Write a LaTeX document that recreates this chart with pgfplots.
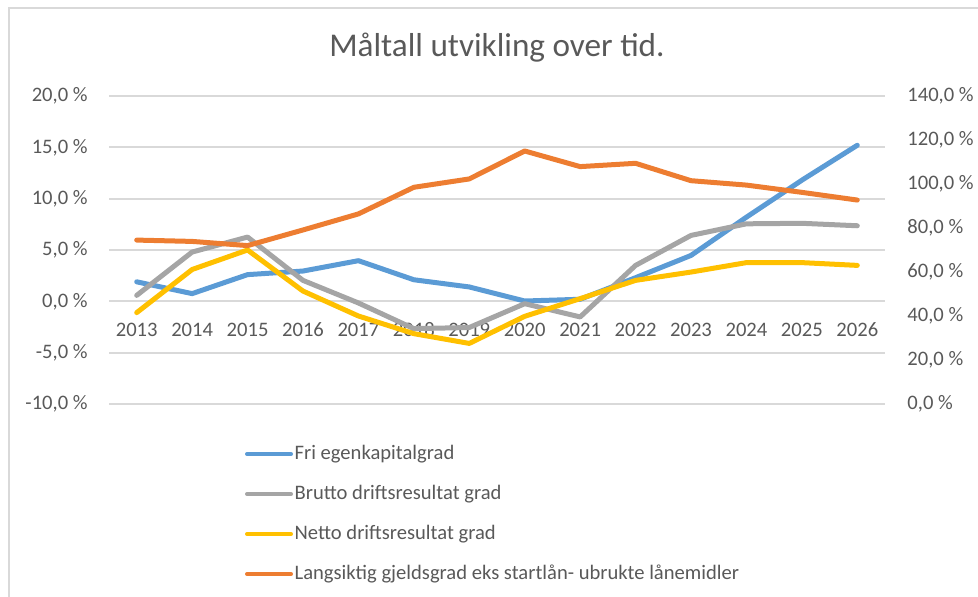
\documentclass[border=0pt]{standalone}
\usepackage{pgfplots}
\pgfplotsset{compat=1.18}
\usepackage{fontspec}
\setmainfont{Carlito}
\definecolor{cblue}{HTML}{5B9BD5}
\definecolor{corange}{HTML}{ED7D31}
\definecolor{cgray}{HTML}{A5A5A5}
\definecolor{cyellow}{HTML}{FFC000}
\definecolor{cgrid}{HTML}{D9D9D9}
\definecolor{ctext}{HTML}{595959}
\begin{document}
\begin{tikzpicture}
\path[use as bounding box] (0,0) rectangle (489pt,298.5pt);
\draw[cgrid, line width=1pt] (4.5pt,0pt) -- (4.5pt,294.5pt) -- (489pt,294.5pt);
\pgfplotsset{
  common/.style={
    at={(54.5pt,96.5pt)}, anchor=south west,
    scale only axis, width=388pt, height=154pt,
    xmin=-0.5, xmax=13.5,
    axis line style={draw=none},
    major tick length=0pt,
    clip=false,
    tick label style={font=\fontsize{10.3}{12}\selectfont, text=ctext},
    /pgf/number format/assume math mode=true,
  },
  serie/.style={line width=2.5pt, line join=round, line cap=round},
}
\begin{axis}[common,
  ymin=-10, ymax=20,
  ytick={-10,-5,0,5,10,15,20},
  yticklabels={{-10,0 \%},{-5,0 \%},{0,0 \%},{5,0 \%},{10,0 \%},{15,0 \%},{20,0 \%}},
  yticklabel style={anchor=east, inner sep=0pt, xshift=-10.5pt},
  ymajorgrids, grid style={cgrid, line width=1pt},
  xtick={0,...,13},
  xticklabels={2013,2014,2015,2016,2017,2018,2019,2020,2021,2022,2023,2024,2025,2026},
  xticklabel style={anchor=center, inner sep=0pt, yshift=37pt},
]
\addplot[serie, cblue] coordinates {(0,1.9)(1,0.75)(2,2.6)(3,2.95)(4,3.96)(5,2.1)(6,1.4)(7,0.03)(8,0.2)(9,2.3)(10,4.47)(11,8.2)(12,11.8)(13,15.2)};
\addplot[serie, cgray] coordinates {(0,0.58)(1,4.8)(2,6.26)(3,2.04)(4,-0.16)(5,-2.66)(6,-2.55)(7,-0.23)(8,-1.52)(9,3.5)(10,6.42)(11,7.55)(12,7.6)(13,7.36)};
\addplot[serie, cyellow] coordinates {(0,-1.1)(1,3.1)(2,5.0)(3,1.0)(4,-1.43)(5,-3.15)(6,-4.1)(7,-1.46)(8,0.26)(9,2.04)(10,2.85)(11,3.77)(12,3.77)(13,3.5)};
\node[font=\fontsize{16.6}{19}\selectfont, text=ctext] at (rel axis cs:0.5,1) [yshift=24pt] {Måltall utvikling over tid.};
\end{axis}
\begin{axis}[common,
  ymin=0, ymax=140,
  axis x line=none,
  axis y line*=right,
  ytick={0,20,40,60,80,100,120,140},
  yticklabels={{0,0 \%},{20,0 \%},{40,0 \%},{60,0 \%},{80,0 \%},{100,0 \%},{120,0 \%},{140,0 \%}},
  yticklabel style={anchor=west, inner sep=0pt, xshift=11pt},
  legend style={at={(0.1753,-0.128)}, anchor=north west, draw=none, fill=none,
    inner sep=0pt, outer sep=0pt,
    font=\fontsize{10.3}{12}\selectfont, text=ctext,
    nodes={inner sep=0.8pt, text height=7pt, text depth=2pt},
    row sep=9.4pt},
  legend cell align=left,
  legend image code/.code={\draw[#1, line width=2pt] (0pt,0pt) -- (22pt,0pt);},
]
\addlegendimage{serie, cblue}
\addlegendentry{Fri egenkapitalgrad}
\addlegendimage{serie, cgray}
\addlegendentry{Brutto driftsresultat grad}
\addlegendimage{serie, cyellow}
\addlegendentry{Netto driftsresultat grad}
\addplot[serie, corange] coordinates {(0,74.5)(1,73.9)(2,72.0)(3,79.1)(4,86.4)(5,98.5)(6,102.3)(7,115.0)(8,107.9)(9,109.4)(10,101.5)(11,99.5)(12,96.2)(13,92.7)};
\addlegendentry{Langsiktig gjeldsgrad eks startlån- ubrukte lånemidler}
\end{axis}
\end{tikzpicture}
\end{document}
